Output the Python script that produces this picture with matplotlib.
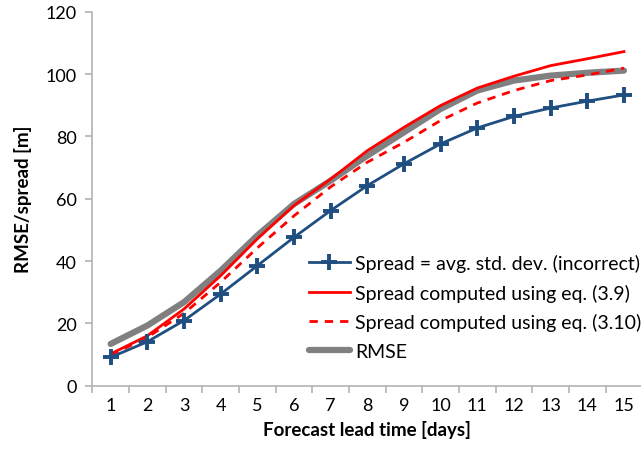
import numpy as np
import matplotlib.pyplot as plt

plt.rcParams['font.family'] = ['Lato', 'DejaVu Sans']

# forecast lead time [days]
lead_days = list(range(1, 16))

# spread = average std. dev. (incorrect)
spread_avg_std = [9.1, 14.1, 20.9, 29.4, 38.5, 47.6, 56.2, 64.2, 71.2, 77.6,
                  82.7, 86.4, 89.1, 91.3, 93.3]
# spread from eq. (3.9)
spread_eq39 = [10.2, 16.0, 24.6, 35.3, 47.1, 57.8, 66.3, 75.4, 82.9, 89.9,
               95.5, 99.3, 102.7, 104.9, 107.2]
# spread from eq. (3.10)
spread_eq310 = [9.8, 15.5, 23.2, 33.2, 44.2, 54.5, 63.8, 71.7, 78.1, 85.1,
                90.7, 94.7, 97.9, 99.7, 101.9]
# RMSE
rmse = [13.4, 19.3, 26.8, 36.9, 48.2, 58.3, 65.8, 73.8, 81.3, 88.8,
        94.7, 97.9, 99.5, 100.4, 101.1]

labels = ["Spread = avg. std. dev. (incorrect)",
          "Spread computed using eq. (3.9)",
          "Spread computed using eq. (3.10)",
          "RMSE"]

W, H = 641, 464
fig = plt.figure(figsize=(W / 100, H / 100), dpi=100)
ax = fig.add_axes([92.3 / W, 1 - 386.7 / H, (642.3 - 92.3) / W, (386.7 - 12.7) / H])

blue = '#1f4e80'
ax.plot(lead_days, spread_avg_std, color=blue, lw=2, marker='+', ms=12, mew=2.8,
        label=labels[0], zorder=4)
ax.plot(lead_days, spread_eq39, color='#ff0000', lw=2, label=labels[1], zorder=3)
ax.plot(lead_days, spread_eq310, color='#ff0000', lw=2, ls=(0, (3, 2.5)),
        label=labels[2], zorder=3)
ax.plot(lead_days, rmse, color='#808080', lw=4.5, solid_capstyle='round',
        label=labels[3], zorder=2)

ax.set_xlim(0.5, 15.5)
ax.set_ylim(0, 120)
ax.set_yticks(np.arange(0, 121, 20))
ax.set_xticks(lead_days)
ax.set_xticks(np.arange(0.5, 15.6, 1), minor=True)

axis_col = '#b3b3b3'
for s in ['top', 'right']:
    ax.spines[s].set_visible(False)
for s in ['left', 'bottom']:
    ax.spines[s].set_color(axis_col)
    ax.spines[s].set_linewidth(1.2)

ax.tick_params(axis='x', which='major', length=0, pad=8, labelsize=13, colors='black')
ax.tick_params(axis='x', which='minor', length=5, width=1.2, color=axis_col)
ax.tick_params(axis='y', which='major', length=5, width=1.2, color=axis_col,
               labelsize=13, pad=6)

ax.set_xlabel("Forecast lead time [days]", fontsize=13.5, fontweight='bold', labelpad=5)
ax.set_ylabel("RMSE/spread [m]", fontsize=13.5, fontweight='bold', labelpad=10)

fig.legend(loc='upper left', bbox_to_anchor=(299 / W, 1 - 245 / H), frameon=False,
           fontsize=14, borderpad=0, handlelength=2.1, handletextpad=0.3,
           labelspacing=0.6)

fig.savefig('out.png', dpi=100)
